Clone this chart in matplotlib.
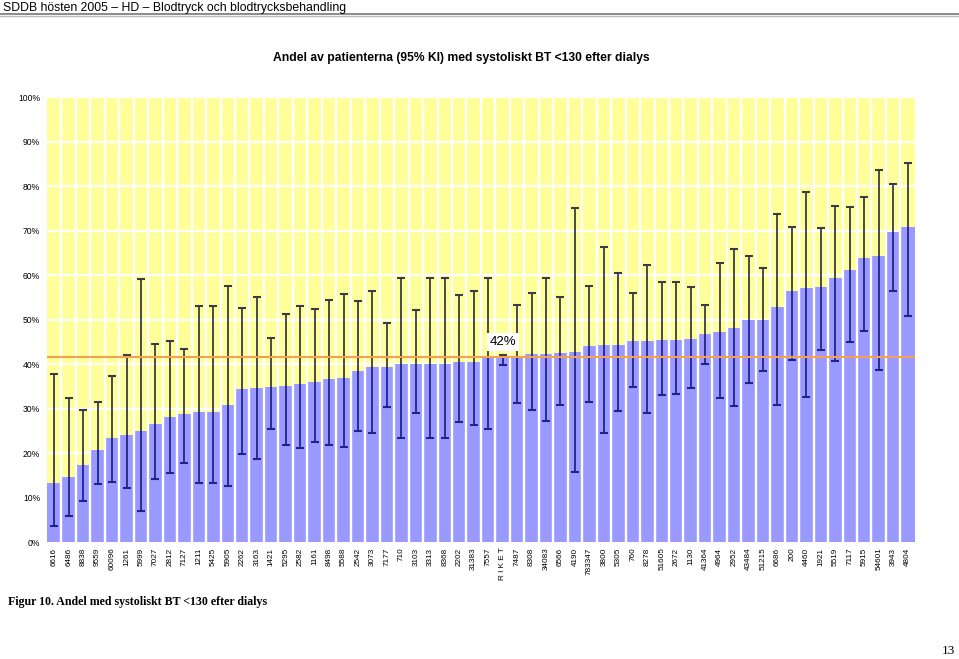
import numpy as np
import matplotlib.pyplot as plt

# clinic codes, sorted by share
labels = ['6616', '6486', '8838', '9559', '60096', '1261', '5999', '7027', '2812', '7127',
          '1211', '5425', '5905', '2262', '3163', '1421', '5295', '2582', '1161', '8498',
          '5588', '2542', '3073', '7177', '710', '3103', '3313', '8368', '2202', '31383',
          '7557', 'R I K E T', '7487', '8308', '34083', '6566', '4190', '783347', '3800', '5305',
          '760', '8278', '51605', '2672', '1130', '41364', '4964', '2952', '43484', '51215',
          '6686', '200', '4460', '1921', '5519', '7117', '5915', '54601', '3943', '4804']

share = [13.2, 14.7, 17.2, 20.7, 23.3, 24.0, 24.9, 26.6, 28.0, 28.8,
         29.3, 29.3, 30.7, 34.4, 34.7, 34.9, 35.0, 35.4, 36.0, 36.6,
         36.9, 38.4, 39.3, 39.3, 39.9, 39.9, 39.9, 39.9, 40.4, 40.4,
         41.3, 41.6, 41.8, 42.2, 42.2, 42.5, 42.8, 44.1, 44.3, 44.3,
         45.1, 45.1, 45.4, 45.5, 45.6, 46.7, 47.3, 48.0, 49.9, 49.9,
         52.8, 56.3, 57.1, 57.3, 59.3, 61.1, 63.8, 64.3, 69.7, 70.8]

ci_low = [3.6, 5.8, 9.3, 13.0, 13.5, 12.1, 7.0, 14.2, 15.4, 17.7,
          13.2, 13.2, 12.7, 19.8, 18.7, 25.4, 21.7, 21.1, 22.4, 21.8,
          21.4, 24.9, 24.6, 30.3, 23.3, 28.9, 23.3, 23.3, 27.0, 26.2,
          25.5, 39.8, 31.3, 29.7, 27.2, 30.9, 15.7, 31.5, 24.4, 29.4,
          34.9, 29.1, 33.0, 33.3, 34.5, 40.1, 32.4, 30.6, 35.8, 38.4,
          30.9, 40.9, 32.5, 43.1, 40.7, 44.9, 47.5, 38.7, 56.5, 50.8]

ci_high = [37.8, 32.4, 29.7, 31.5, 37.2, 42.1, 59.1, 44.4, 45.2, 43.4,
           53.1, 53.1, 57.6, 52.7, 55.1, 45.9, 51.2, 53.0, 52.4, 54.4,
           55.8, 54.2, 56.3, 49.3, 59.3, 52.1, 59.3, 59.3, 55.6, 56.5,
           59.3, 42.1, 53.3, 55.9, 59.3, 55.1, 75.1, 57.6, 66.3, 60.4,
           55.9, 62.2, 58.4, 58.4, 57.3, 53.3, 62.7, 65.9, 64.2, 61.6,
           73.8, 70.8, 78.6, 70.5, 75.6, 75.2, 77.6, 83.7, 80.5, 85.2]

riket = 41.6
riket_label = '42%'

share = np.array(share)
ci_low = np.array(ci_low)
ci_high = np.array(ci_high)
x = np.arange(len(labels))

fig = plt.figure(figsize=(9.59, 6.59), dpi=100)
plt.rcParams['font.family'] = ['Liberation Sans', 'DejaVu Sans']

ax = fig.add_axes([0.049, 0.1775, 0.905, 0.6753])
ax.set_facecolor('#FFFF99')
ax.set_xlim(-0.5, len(labels) - 0.5)
ax.set_ylim(0, 100)

# white grid: horizontal every 10 % behind bars, vertical borders on top of bars
for v in range(10, 101, 10):
    ax.axhline(v, color='white', lw=1.6, zorder=1)
ax.bar(x, share, width=1.0, color='#9999FF', zorder=2)
for b in np.arange(0.5, len(labels) - 0.5, 1):
    ax.axvline(b, color='white', lw=1.7, zorder=2.5)

# CI: lower half navy (over bar), upper half dark grey (over background)
ax.vlines(x, ci_low, share, color='#22228C', lw=1.3, zorder=3)
ax.vlines(x, share, ci_high, color='#3A3A4A', lw=1.3, zorder=3)
ax.plot(x, ci_low, ls='none', marker='_', ms=6, mew=1.5, color='#22228C', zorder=3)
ax.plot(x, ci_high, ls='none', marker='_', ms=6, mew=1.5, color='#3A3A4A', zorder=3)

ax.axhline(riket, color='#F4A050', lw=1.5, zorder=4)
ri = labels.index('R I K E T')
ax.text(ri, riket + 3.3, riket_label, ha='center', va='center', fontsize=9.5, zorder=5,
        bbox=dict(facecolor='white', edgecolor='none', pad=2))

ax.set_yticks(range(0, 101, 10))
ax.set_yticklabels([f'{v}%' for v in range(0, 101, 10)], fontsize=6.2)
ax.set_xticks(x)
ax.set_xticklabels(labels, rotation=90, fontsize=5.9)
ax.tick_params(length=0)
ax.tick_params(axis='y', pad=5)
ax.tick_params(axis='x', pad=4)
for s in ax.spines.values():
    s.set_visible(False)

fig.text(0.481, 0.912, 'Andel av patienterna (95% KI) med systoliskt BT <130 efter dialys',
         ha='center', va='center', fontsize=8.7, fontweight='bold')

# page header
fig.text(0.003, 0.9833, 'SDDB hösten 2005 – HD – Blodtryck och blodtrycksbehandling',
         ha='left', va='baseline', fontsize=8.8)
fig.add_artist(plt.Line2D([0, 1], [0.978, 0.978], color='#777777', lw=1.2))
fig.add_artist(plt.Line2D([0, 1], [0.975, 0.975], color='#BBBBBB', lw=1.0))

fig.text(0.008, 0.087, 'Figur 10. Andel med systoliskt BT <130 efter dialys',
         ha='left', va='center', fontsize=8.6, fontweight='bold', family='Liberation Serif')
fig.text(0.996, 0.003, '13', ha='right', va='bottom', fontsize=9.5, family='Liberation Serif')

fig.savefig('out.png', dpi=100)
